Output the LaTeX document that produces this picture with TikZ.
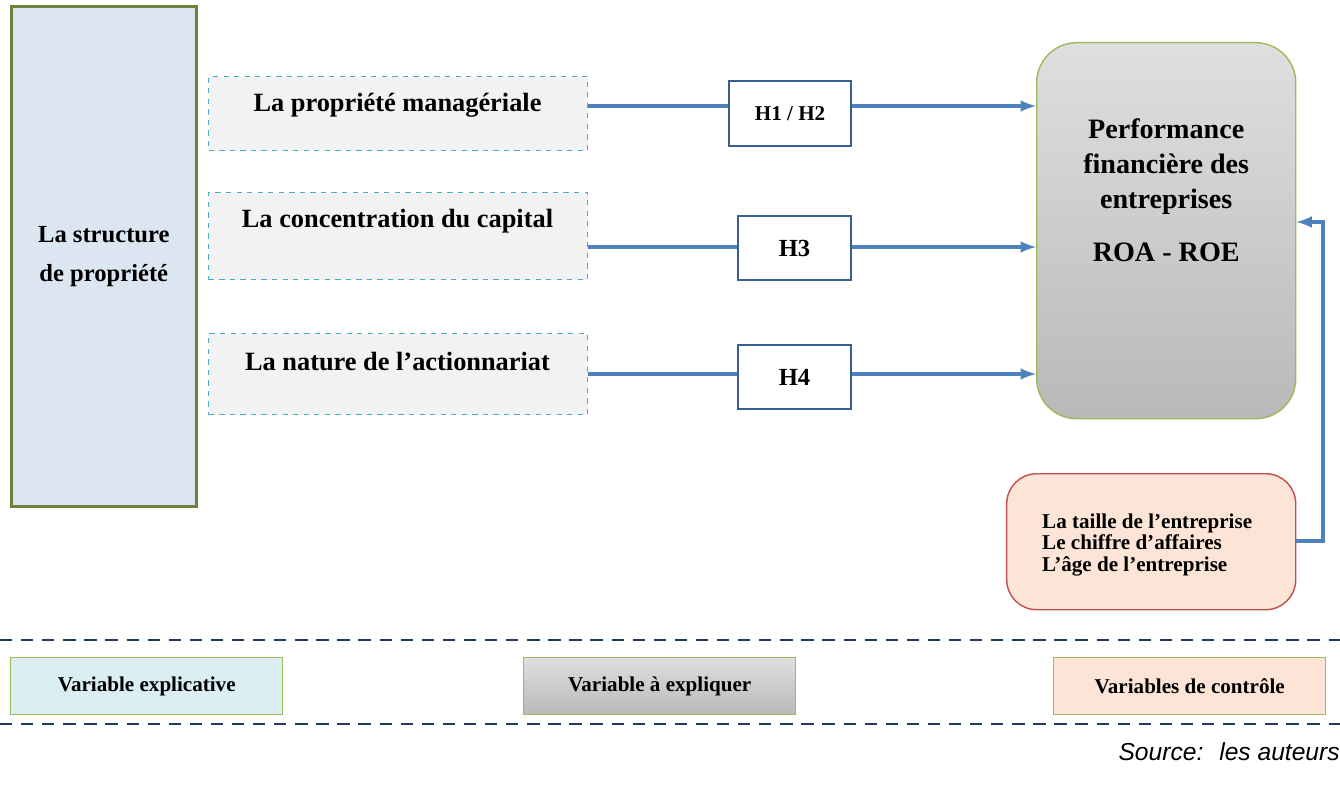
\documentclass[tikz,border=0pt]{standalone}
\usepackage{fontspec}
\setmainfont{Liberation Serif}
\newfontfamily\srcfont{Liberation Sans}
\usetikzlibrary{positioning}
\definecolor{leftBlue}{RGB}{220,230,241}
\definecolor{boxGreen}{RGB}{155,187,89}
\definecolor{dashCyan}{RGB}{75,172,198}
\definecolor{lineBlue}{RGB}{79,129,189}
\definecolor{hBlue}{RGB}{54,96,146}
\definecolor{peach}{RGB}{252,228,214}
\definecolor{ctrlRed}{RGB}{192,80,77}
\definecolor{legendBlue}{RGB}{218,238,243}
\definecolor{sepNavy}{RGB}{31,56,100}
\tikzset{
    varBox/.style={draw=dashCyan, thick, dashed, fill=gray!10, anchor=north west, inner sep=0pt},
    hypBox/.style={draw=hBlue, very thick, fill=white, anchor=north west, inner sep=0pt, font=\bfseries},
    link/.style={draw=lineBlue, line width=2pt},
    linkArrow/.style={link, -latex},
    legendBox/.style={draw=boxGreen, thick, anchor=north west, inner sep=0pt, minimum width=5.44cm, minimum height=1.14cm, font=\fontsize{12}{14}\selectfont\bfseries},
    separator/.style={draw=sepNavy, line width=1.2pt, dash pattern=on 7pt off 5pt}
}
\begin{document}
\begin{tikzpicture}
    \useasboundingbox (0,0) rectangle (26.8,-15.68);
    % structure de propriete
    \node[draw=boxGreen!70!black, line width=1.5pt, fill=leftBlue, anchor=north west, minimum width=3.7cm, minimum height=10cm, align=center, font=\fontsize{14}{22}\selectfont\bfseries] (struct) at (0.2,-0.1) {La structure\\de propriété};
    % variables explicatives
    \node[varBox, minimum width=7.58cm, minimum height=1.48cm] (prop) at (4.16,-1.52) {};
    \node[font=\fontsize{15}{18}\selectfont\bfseries] (propT) at (7.95,-2.1) {La propriété managériale};
    \node[varBox, minimum width=7.58cm, minimum height=1.74cm] (conc) at (4.16,-3.84) {};
    \node[font=\fontsize{15}{18}\selectfont\bfseries] (concT) at (7.95,-4.42) {La concentration du capital};
    \node[varBox, minimum width=7.58cm, minimum height=1.62cm] (nat) at (4.16,-6.66) {};
    \node[font=\fontsize{15}{18}\selectfont\bfseries] (natT) at (7.95,-7.24) {La nature de l’actionnariat};
    % hypotheses
    \node[hypBox, minimum width=2.44cm, minimum height=1.3cm, font=\fontsize{12}{14}\selectfont\bfseries] (h12) at (14.56,-1.6) {H1 / H2};
    \node[hypBox, minimum width=2.26cm, minimum height=1.28cm, font=\fontsize{14}{16}\selectfont\bfseries] (h3) at (14.74,-4.3) {H3};
    \node[hypBox, minimum width=2.26cm, minimum height=1.28cm, font=\fontsize{14}{16}\selectfont\bfseries] (h4) at (14.74,-6.88) {H4};
    % performance
    \node[draw=boxGreen, thick, rounded corners=0.8cm, top color=gray!25, bottom color=gray!55, anchor=north west, minimum width=5.18cm, minimum height=7.52cm, inner sep=0pt] (perf) at (20.72,-0.84) {};
    \node[align=center, font=\fontsize{16}{20}\selectfont\bfseries] (perfT) at (perf.center |- 0,-3.8) {Performance\\financière des\\entreprises\\[0.35cm]ROA - ROE};
    % controle
    \node[draw=ctrlRed, thick, rounded corners=0.6cm, fill=peach, anchor=north west, minimum width=5.78cm, minimum height=2.72cm, inner sep=0pt] (ctrl) at (20.12,-9.46) {};
    \node[align=left, anchor=west, font=\fontsize{12}{12.5}\selectfont\bfseries] (ctrlT) at (20.72,-10.9) {La taille de l’entreprise\\Le chiffre d’affaires\\L’âge de l’entreprise};
    % liens
    \coordinate (p1) at (perf.west |- 0,-2.12);
    \coordinate (p2) at (perf.west |- 0,-4.94);
    \coordinate (p3) at (perf.west |- 0,-7.48);
    \draw[link] (prop.east |- p1) -- (h12.west |- p1);
    \draw[linkArrow] (h12.east |- p1) -- (p1);
    \draw[link] (conc.east |- p2) -- (h3.west |- p2);
    \draw[linkArrow] (h3.east |- p2) -- (p2);
    \draw[link] (nat.east |- p3) -- (h4.west |- p3);
    \draw[linkArrow] (h4.east |- p3) -- (p3);
    \coordinate (fb) at (26.46,-10.82);
    \draw[linkArrow] (ctrl.east |- fb) -- (fb) |- (perf.east |- 0,-4.44);
    % legende
    \draw[separator] (0,-12.8) -- (26.8,-12.8);
    \draw[separator] (0,-14.48) -- (26.8,-14.48);
    \node[legendBox, fill=legendBlue] (legExp) at (0.2,-13.14) {Variable explicative};
    \node[legendBox, top color=gray!25, bottom color=gray!55] (legPerf) at (10.46,-13.14) {Variable à expliquer};
    \node[legendBox, fill=peach] (legCtrl) at (21.06,-13.14) {Variables de contrôle};
    \node[anchor=east, font=\srcfont\fontsize{14}{16}\selectfont\itshape, inner sep=0pt] (source) at (26.8,-15.04) {Source:~ les auteurs};
\end{tikzpicture}
\end{document}
